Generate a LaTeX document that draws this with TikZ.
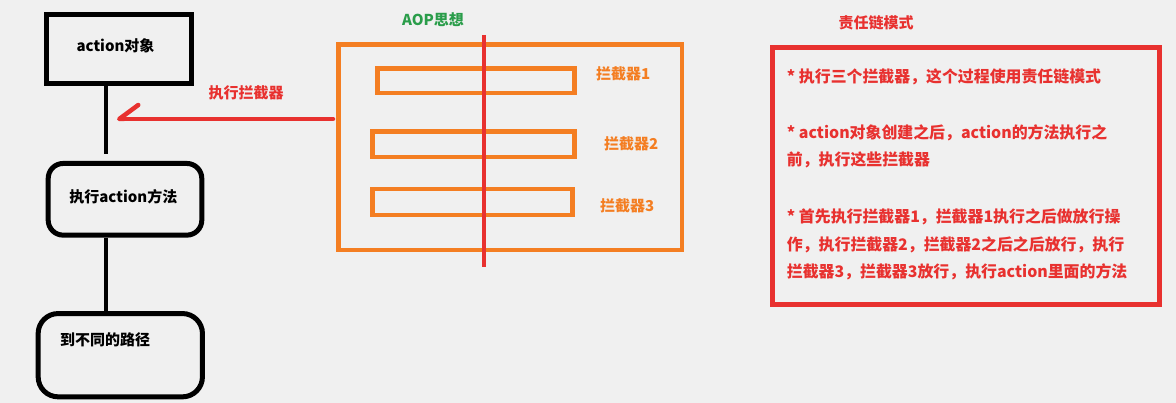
\documentclass[tikz,border=0pt]{standalone}
\usepackage{fontspec}
\setmainfont{Noto Sans CJK SC}
\usetikzlibrary{arrows.meta}
\definecolor{bg}{HTML}{F0F0F0}
\definecolor{aoporange}{HTML}{F47E22}
\definecolor{chainred}{HTML}{E8312F}
\definecolor{aopgreen}{HTML}{2A9D4A}
\tikzstyle{lbl} = [font=\bfseries\fontsize{15}{18}\selectfont, inner sep=0pt]
\tikzstyle{objbox} = [draw=black, line width=5pt, inner sep=0pt]
\tikzstyle{link} = [draw=black, line width=4.5pt]
\tikzstyle{bar} = [draw=aoporange, line width=4.5pt, inner sep=0pt]
\tikzstyle{barlabel} = [lbl, text=aoporange, anchor=west]
\tikzstyle{note} = [font=\bfseries\fontsize{15.9}{20}\selectfont, text=chainred, anchor=west, inner sep=0pt]
\tikzstyle{intercept} = [draw=chainred, line width=4.5pt, line cap=round, -{Straight Barb[right, length=19pt, width=28pt, round]}]

\begin{document}
\begin{tikzpicture}[x=1pt, y=-1pt]
						\fill[bg] (0,0) rectangle (1176,403);
						\useasboundingbox (0,0) rectangle (1176,403);

						% First the action side on the left
						\node[objbox, minimum width=144.7pt, minimum height=68.4pt] (obj) at (119.2,49) {};
						\node[lbl] (objtext) at (115.5,46) {action对象};
						\node[objbox, rounded corners=15pt, minimum width=153.6pt, minimum height=71.7pt] (method) at (125,199.3) {};
						\node[lbl] (methodtext) at (123.3,196.7) {执行action方法};
						\node[objbox, rounded corners=20pt, minimum width=164.3pt, minimum height=83.3pt] (path) at (120.3,355.2) {};
						\node[lbl] (pathtext) at (105,340) {到不同的路径};

						\coordinate (stem) at (106,0);
						\path[link, shorten >=7pt] (obj.south -| stem) -- (method.north -| stem);
						\path[link] (method.south -| stem) -- (path.north -| stem);

						% The AOP box with its interceptors
						\node[lbl, text=aopgreen] (aoptitle) at (433,19.3) {AOP思想};
						\node[draw=aoporange, line width=4.5pt, inner sep=0pt, minimum width=343.3pt, minimum height=205.3pt] (aop) at (510.3,147.3) {};
						\foreach \pos/\w/\h/\name/\lpos in {{(476,80.7)/197/24.7/1/(596,74)}, {(473.5,144.2)/202/25.5/2/(604,144)}, {(472.5,202)/200/26/3/(600,206)}}
						{
							\node[bar, minimum width=\w pt, minimum height=\h pt] (bar\name) at \pos {};
							\node[barlabel] (barlabel\name) at \lpos {拦截器\name};
						}
						\coordinate (cuttop) at (484,35);
						\coordinate (cutbot) at (484,266.7);
						\path[draw=chainred, line width=4.5pt] (cuttop) -- (cutbot);

						% Calling the interceptors
						\coordinate (callpt) at (333,119);
						\path[intercept] (callpt) -- ([xshift=11pt]callpt -| stem);
						\node[lbl, text=chainred] (calltext) at (246,93.3) {执行拦截器};

						% The chain of responsibility
						\node[lbl, text=chainred] (chaintitle) at (876,23.3) {责任链模式};
						\node[draw=chainred, line width=5pt, inner sep=0pt, minimum width=386.7pt, minimum height=257.5pt] (chain) at (965.8,176.2) {};
						\foreach \y/\txt [count=\i] in {76.7/{* 执行三个拦截器，这个过程使用责任链模式}, 132.7/{* action对象创建之后，action的方法执行之}, 160/{前，执行这些拦截器}, 216.7/{* 首先执行拦截器1，拦截器1执行之后做放行操}, 245/{作，执行拦截器2，拦截器2之后之后放行，执行}, 271.7/{拦截器3，拦截器3放行，执行action里面的方法}}
						\node[note] (line\i) at (786.7,\y) {\txt};
					\end{tikzpicture}
\end{document}
